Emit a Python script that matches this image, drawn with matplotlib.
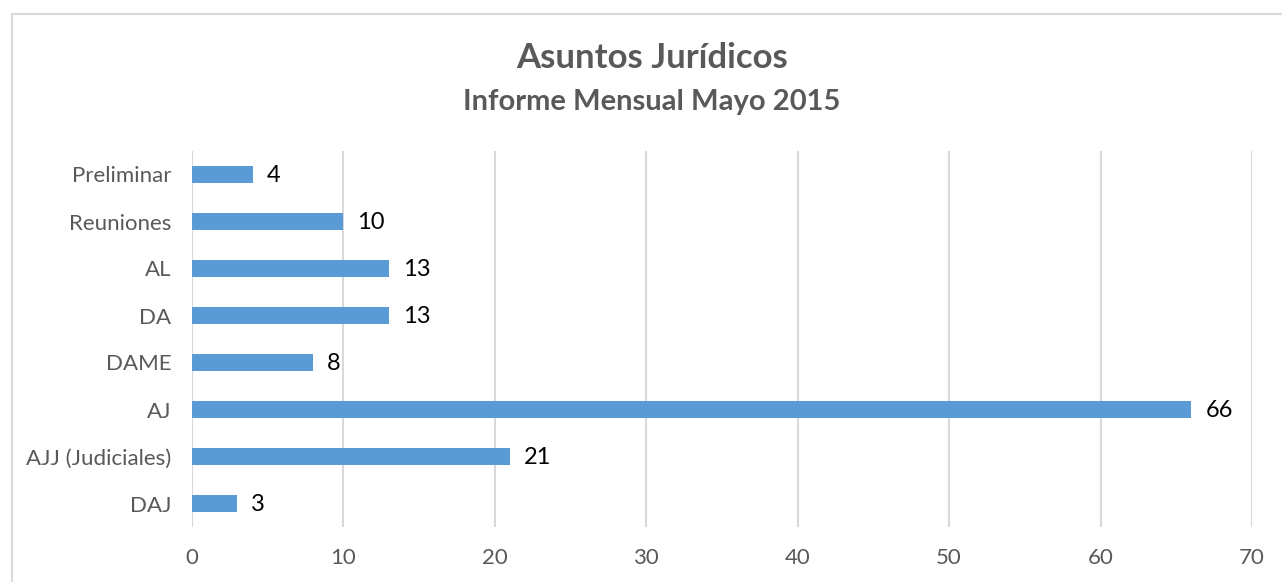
import matplotlib.pyplot as plt
from matplotlib.patches import Rectangle

# Data (bottom to top)
categories = ["DAJ", "AJJ (Judiciales)", "AJ", "DAME", "DA", "AL", "Reuniones", "Preliminar"]
values = [3, 21, 66, 8, 13, 13, 10, 4]
x_ticks = [0, 10, 20, 30, 40, 50, 60, 70]

plt.rcParams["font.family"] = ["Lato", "DejaVu Sans"]

W, H = 1282, 582
fig = plt.figure(figsize=(W / 100, H / 100), dpi=100)

# chart border (cropped on the right and bottom)
fig.patches.append(Rectangle((11.5 / W, -0.1), 1.2, (H - 13.5) / H + 0.1,
                             transform=fig.transFigure, fill=False,
                             edgecolor="#D9D9D9", linewidth=1.5))

ax = fig.add_axes([192 / W, 55 / H, (1252 - 192) / W, (527 - 151) / H])
pos = list(range(len(categories)))
ax.barh(pos, values, height=0.355, color="#5B9BD5", zorder=3)

for p, v in zip(pos, values):
    ax.annotate(str(v), (v, p), xytext=(10, -1), textcoords="offset points",
                ha="left", va="center", fontsize=17, color="black")

ax.set_xlim(0, 70)
ax.set_ylim(-0.5, len(categories) - 0.5)
ax.set_xticks(x_ticks)
ax.set_yticks(pos)
ax.set_yticklabels(categories)
ax.tick_params(length=0, labelsize=16, labelcolor="#595959")
ax.tick_params(axis="x", pad=15)
ax.tick_params(axis="y", pad=15)
ax.grid(axis="x", color="#D9D9D9", linewidth=1.5, zorder=0)
for s in ax.spines.values():
    s.set_visible(False)

fig.text(652 / W, 1 - 58 / H, "Asuntos Jurídicos", ha="center", va="center",
         fontsize=25, fontweight="bold", color="#595959")
fig.text(652 / W, 1 - 102 / H, "Informe Mensual Mayo 2015", ha="center", va="center",
         fontsize=21, fontweight="bold", color="#595959")

fig.savefig("out.png", dpi=100)
